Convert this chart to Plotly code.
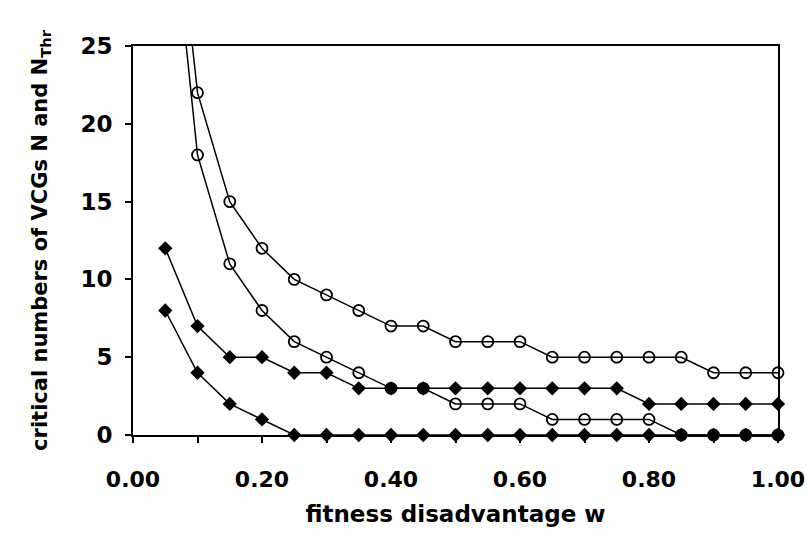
import plotly.graph_objects as go

w = [0.05, 0.10, 0.15, 0.20, 0.25, 0.30, 0.35, 0.40, 0.45, 0.50,
     0.55, 0.60, 0.65, 0.70, 0.75, 0.80, 0.85, 0.90, 0.95, 1.00]

# open-circle series (N)
n_upper = [41, 22, 15, 12, 10, 9, 8, 7, 7, 6, 6, 6, 5, 5, 5, 5, 5, 4, 4, 4]
n_lower = [38, 18, 11, 8, 6, 5, 4, 3, 3, 2, 2, 2, 1, 1, 1, 1, 0, 0, 0, 0]
# filled-diamond series (N_Thr)
thr_upper = [12, 7, 5, 5, 4, 4, 3, 3, 3, 3, 3, 3, 3, 3, 3, 2, 2, 2, 2, 2]
thr_lower = [8, 4, 2, 1, 0, 0, 0, 0, 0, 0, 0, 0, 0, 0, 0, 0, 0, 0, 0, 0]

x_ticks = [0.0, 0.2, 0.4, 0.6, 0.8, 1.0]
x_tick_text = ["0.00", "0.20", "0.40", "0.60", "0.80", "1.00"]
y_ticks = [0, 5, 10, 15, 20, 25]

FONT = "DejaVu Sans"
fig = go.Figure()

for ys in (thr_upper, thr_lower):
    fig.add_trace(go.Scatter(
        x=w, y=ys, mode="lines+markers", cliponaxis=False,
        line=dict(color="black", width=1.5),
        marker=dict(symbol="diamond", size=11, color="black"),
        showlegend=False))

for ys in (n_upper, n_lower):
    fig.add_trace(go.Scatter(
        x=w, y=ys, mode="lines+markers", cliponaxis=False,
        line=dict(color="black", width=1.5),
        marker=dict(symbol="circle-open", size=11, color="black",
                    line=dict(width=1.8, color="black")),
        showlegend=False))

fig.update_layout(
    width=807, height=535,
    margin=dict(l=133, r=29, t=46, b=100),
    paper_bgcolor="white", plot_bgcolor="white",
    font=dict(family=FONT, color="black"),
    xaxis=dict(
        range=[0, 1.0], tickvals=x_ticks, ticktext=x_tick_text,
        ticks="outside", ticklen=6, tickwidth=1.5, tickcolor="black",
        minor=dict(dtick=0.1, ticks="outside", ticklen=6, tickwidth=1.5, tickcolor="black"),
        showline=True, linecolor="black", linewidth=2, mirror=True,
        showgrid=False, zeroline=False, ticklabelstandoff=18,
        ticklabeloverflow="allow", automargin="height",
        tickfont=dict(size=22, family=FONT, weight="bold"),
        title=dict(text="fitness disadvantage w", standoff=14,
                   font=dict(size=23, family=FONT, weight="bold")),
    ),
    yaxis=dict(
        range=[0, 25], tickvals=y_ticks,
        ticks="outside", ticklen=6, tickwidth=1.5, tickcolor="black",
        showline=True, linecolor="black", linewidth=2, mirror=True,
        showgrid=False, zeroline=False, ticklabelstandoff=8,
        tickfont=dict(size=23, family=FONT, weight="bold"),
        title=dict(text="critical numbers of VCGs N and N<sub>Thr</sub>", standoff=27,
                   font=dict(size=21, family=FONT, weight="bold")),
    ),
)

fig.write_html("out.html")
